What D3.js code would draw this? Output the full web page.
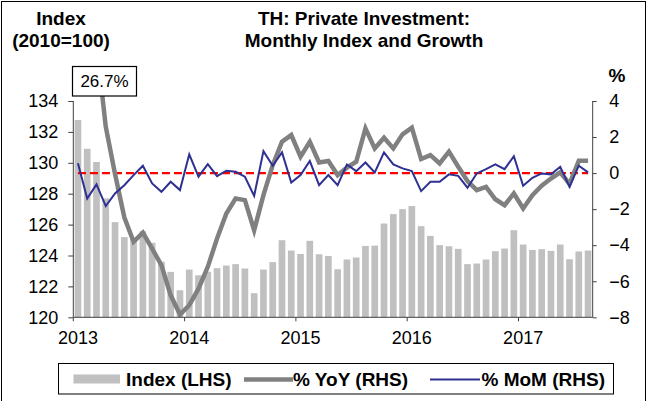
<!DOCTYPE html>
<html>
<head>
<meta charset="utf-8">
<script src="https://cdn.jsdelivr.net/npm/d3@7"></script>
<style>
  html, body { margin: 0; padding: 0; background: #fff; }
  svg { display: block; font-family: "Liberation Sans", Arial, sans-serif; }
</style>
</head>
<body>
<svg id="chart" width="648" height="401"></svg>
<script>
// ---- Data ----
const months = [
  "2013-01","2013-02","2013-03","2013-04","2013-05","2013-06","2013-07","2013-08","2013-09","2013-10","2013-11","2013-12",
  "2014-01","2014-02","2014-03","2014-04","2014-05","2014-06","2014-07","2014-08","2014-09","2014-10","2014-11","2014-12",
  "2015-01","2015-02","2015-03","2015-04","2015-05","2015-06","2015-07","2015-08","2015-09","2015-10","2015-11","2015-12",
  "2016-01","2016-02","2016-03","2016-04","2016-05","2016-06","2016-07","2016-08","2016-09","2016-10","2016-11","2016-12",
  "2017-01","2017-02","2017-03","2017-04","2017-05","2017-06","2017-07","2017-08"
];
const yearLabels = ["2013","2014","2015","2016","2017"];
const yearStarts = ["2013-01","2014-01","2015-01","2016-01","2017-01"];

const indexLHS = [
  132.77,130.91,130.05,127.70,126.16,125.19,125.10,125.57,124.82,123.60,122.94,121.75,
  123.09,122.72,122.95,123.18,123.35,123.44,123.16,121.56,123.09,123.57,124.99,124.32,
  124.10,124.95,124.08,123.97,123.11,123.74,123.87,124.62,124.64,126.07,126.68,127.00,
  127.20,125.90,125.27,124.67,124.60,124.43,123.44,123.48,123.74,124.28,124.45,125.64,
  124.71,124.36,124.41,124.30,124.71,123.76,124.26,124.32
];
const yoyRHS = [
  26.7,17.5,7.2,2.57,-0.05,-2.45,-3.81,-3.30,-4.19,-5.11,-6.78,-7.85,
  -7.33,-6.41,-5.20,-3.63,-2.24,-1.41,-1.50,-3.17,-1.22,0.44,1.74,2.11,
  0.91,1.74,0.59,0.67,-0.11,0.30,0.63,2.48,1.37,1.96,1.37,2.15,
  2.52,0.78,1.00,0.54,1.19,0.35,-0.44,-0.94,-0.76,-1.45,-1.78,-1.13,
  -1.96,-1.22,-0.70,-0.30,0.04,-0.60,0.68,0.68
];
const momRHS = [
  0.54,-1.41,-0.63,-1.83,-1.13,-0.67,-0.11,0.41,-0.57,-1.04,-0.48,-0.94,
  1.04,-0.20,0.50,-0.17,0.13,0.07,-0.20,-1.26,1.22,0.41,1.15,-0.52,
  -0.11,0.67,-0.67,-0.11,-0.67,0.48,0.11,0.59,0.04,1.15,0.48,0.26,
  0.11,-1.00,-0.48,-0.48,-0.07,-0.15,-0.81,-0.02,0.22,0.48,0.22,0.94,
  -0.70,-0.26,-0.02,-0.07,0.35,-0.76,0.41,0.04
];
const leftTicks = [120,122,124,126,128,130,132,134];
const rightTicks = [-8,-6,-4,-2,0,2,4];
const annotation = "26.7%";

// ---- Layout ----
const svg = d3.select("#chart");
const plot = { left: 73.3, right: 592.7, top: 101, bottom: 317.3 };

const x = d3.scaleBand().domain(months).range([plot.left, plot.right]).paddingInner(0.28).paddingOuter(0.14);
const xc = m => x(m) + x.bandwidth() / 2;
const xStart = m => x(m) - x.step() * 0.14;
const yL = d3.scaleLinear().domain([120, 134]).range([plot.bottom, plot.top]);
const yR = d3.scaleLinear().domain([-8, 4]).range([plot.bottom, plot.top]);

// Outer frame
svg.append("rect").attr("x", 1.5).attr("y", 1.5).attr("width", 644).attr("height", 420)
  .attr("fill", "none").attr("stroke", "#000").attr("stroke-width", 1);

// Clip for lines
svg.append("defs").append("clipPath").attr("id", "clip")
  .append("rect").attr("x", plot.left).attr("y", 67).attr("width", plot.right - plot.left).attr("height", plot.bottom - 67);

// Bars
svg.append("g").selectAll("rect").data(months).join("rect")
  .attr("x", m => x(m))
  .attr("width", x.bandwidth())
  .attr("y", (m, i) => yL(indexLHS[i]))
  .attr("height", (m, i) => yL(120) - yL(indexLHS[i]))
  .attr("fill", "#c0c0c0");

// Zero reference (dashed red)
const zeroLine = d3.line().x(m => xc(m)).y(() => yR(0));
svg.append("path").datum(months).attr("d", zeroLine)
  .attr("fill", "none").attr("stroke", "#ff0000").attr("stroke-width", 2.2).attr("stroke-dasharray", "8,4");

// YoY line
const yoyLine = d3.line().x(m => xc(m)).y((m, i) => yR(yoyRHS[i]));
svg.append("path").datum(months).attr("d", yoyLine).attr("clip-path", "url(#clip)")
  .attr("fill", "none").attr("stroke", "#808080").attr("stroke-width", 4.5).attr("stroke-linejoin", "miter");

// MoM line
const momLine = d3.line().x(m => xc(m)).y((m, i) => yR(momRHS[i]));
svg.append("path").datum(months).attr("d", momLine)
  .attr("fill", "none").attr("stroke", "#2e3192").attr("stroke-width", 2);

// Annotation box
const ann = svg.append("g");
ann.append("rect").attr("x", 72.5).attr("y", 66.5).attr("width", 64).attr("height", 29.5)
  .attr("fill", "#fff").attr("stroke", "#000").attr("stroke-width", 1.2);
ann.append("text").attr("x", 104.5).attr("y", 87).attr("text-anchor", "middle")
  .attr("font-size", 17).attr("fill", "#000").text(annotation);

// Axes
const axisColor = "#404040";
const gL = svg.append("g").attr("transform", `translate(${plot.left},0)`)
  .call(d3.axisLeft(yL).tickValues(leftTicks).tickSize(5).tickPadding(10).tickFormat(d3.format("d")));
const gR = svg.append("g").attr("transform", `translate(${plot.right},0)`)
  .call(d3.axisRight(yR).tickValues(rightTicks).tickSize(4).tickPadding(12).tickFormat(d3.format("d")));
[gL, gR].forEach(g => {
  g.select(".domain").attr("stroke", axisColor).attr("d", null);
  g.selectAll(".tick line").attr("stroke", axisColor);
  g.selectAll(".tick text").attr("font-size", 18).attr("font-family", "Liberation Sans, Arial, sans-serif").attr("fill", "#000");
});
gL.select(".domain").remove();
gR.select(".domain").remove();
gR.selectAll(".tick text").attr("text-anchor", "start").attr("x", 16.5);
svg.append("line").attr("x1", plot.left).attr("x2", plot.left).attr("y1", plot.top).attr("y2", plot.bottom).attr("stroke", axisColor);
svg.append("line").attr("x1", plot.right).attr("x2", plot.right).attr("y1", plot.top).attr("y2", plot.bottom).attr("stroke", axisColor);

// Bottom axis
const gB = svg.append("g").attr("transform", `translate(0,${plot.bottom})`)
  .call(d3.axisBottom(x).tickValues(yearStarts).tickSize(4).tickPadding(10)
    .tickFormat((m, i) => yearLabels[i]));
gB.select(".domain").remove();
gB.selectAll(".tick line").attr("stroke", axisColor).attr("x1", -x.step() / 2).attr("x2", -x.step() / 2);
gB.selectAll(".tick text").attr("font-size", 18).attr("font-family", "Liberation Sans, Arial, sans-serif").attr("fill", "#000");
svg.append("line").attr("x1", plot.left).attr("x2", plot.right).attr("y1", plot.bottom).attr("y2", plot.bottom).attr("stroke", axisColor);

// Titles
const title = svg.append("text").attr("text-anchor", "middle").attr("font-size", 19).attr("font-weight", "bold").attr("fill", "#000");
title.append("tspan").attr("x", 364).attr("y", 25).text("TH: Private Investment:");
title.append("tspan").attr("x", 364).attr("y", 47).text("Monthly Index and Growth");

const lhsTitle = svg.append("text").attr("text-anchor", "middle").attr("font-size", 19).attr("font-weight", "bold").attr("fill", "#000");
lhsTitle.append("tspan").attr("x", 61).attr("y", 25).text("Index");
lhsTitle.append("tspan").attr("x", 61).attr("y", 47).text("(2010=100)");

svg.append("text").attr("x", 617).attr("y", 82).attr("text-anchor", "middle")
  .attr("font-size", 19).attr("font-weight", "bold").attr("fill", "#000").text("%");

// Legend
const lg = svg.append("g");
lg.append("rect").attr("x", 58.5).attr("y", 363.5).attr("width", 555).attr("height", 30.5)
  .attr("fill", "#fff").attr("stroke", "#000").attr("stroke-width", 1);
lg.append("rect").attr("x", 73.5).attr("y", 374.5).attr("width", 46.5).attr("height", 9).attr("fill", "#c0c0c0");
lg.append("text").attr("x", 126).attr("y", 385.5).attr("font-size", 19).attr("font-weight", "bold").text("Index (LHS)");
lg.append("line").attr("x1", 244).attr("x2", 293).attr("y1", 379.5).attr("y2", 379.5).attr("stroke", "#808080").attr("stroke-width", 4.5);
lg.append("text").attr("x", 293).attr("y", 385.5).attr("font-size", 19).attr("font-weight", "bold").text("% YoY (RHS)");
lg.append("line").attr("x1", 430).attr("x2", 480).attr("y1", 379.5).attr("y2", 379.5).attr("stroke", "#2e3192").attr("stroke-width", 2);
lg.append("text").attr("x", 481.5).attr("y", 385.5).attr("font-size", 19).attr("font-weight", "bold").text("% MoM (RHS)");
</script>
</body>
</html>
